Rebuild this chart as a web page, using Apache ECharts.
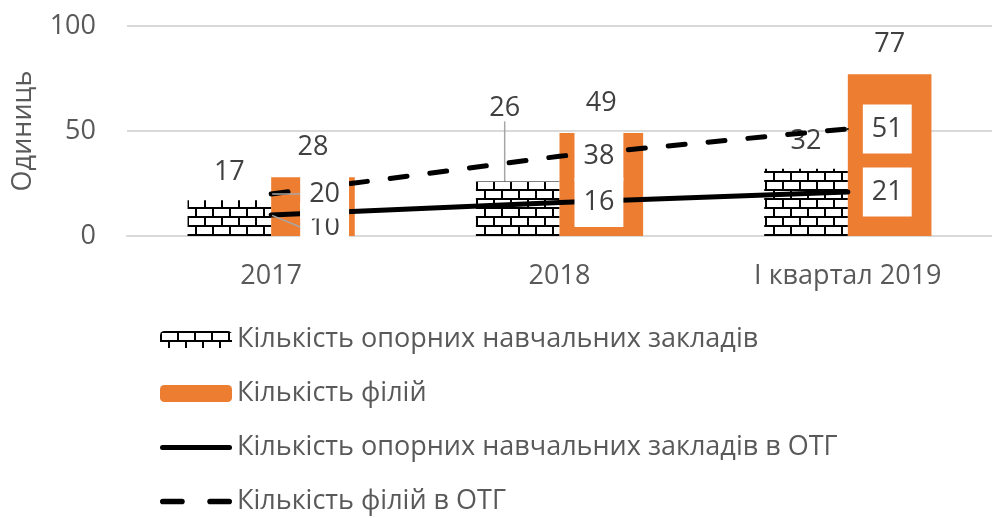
<!DOCTYPE html>
<html>
<head>
<meta charset="utf-8">
<script src="https://cdn.jsdelivr.net/npm/echarts@6/dist/echarts.min.js"></script>
<style>
  html, body { margin: 0; padding: 0; background: #fff; }
  #chart { width: 992px; height: 518px; }
</style>
</head>
<body>
<div id="chart"></div>
<script>
  // data
  let categories = ['2017', '2018', 'І квартал 2019'];
  let seriesNames = [
    'Кількість опорних навчальних закладів',
    'Кількість філій',
    'Кількість опорних навчальних закладів в ОТГ',
    'Кількість філій в ОТГ'
  ];
  let supportSchools = [17, 26, 32];
  let branches = [28, 49, 77];
  let supportSchoolsOtg = [10, 16, 21];
  let branchesOtg = [20, 38, 51];
  let yTicks = [0, 50, 100];

  let font = 'Open Sans';
  let fs = 27;

  // brick fill like the excel pattern
  let brickPattern = () => {
    let c = document.createElement('canvas');
    c.width = 17; c.height = 18;
    let g = c.getContext('2d');
    g.fillStyle = '#fff';
    g.fillRect(0, 0, 17, 18);
    g.fillStyle = '#000';
    g.fillRect(0, 0, 17, 2);
    g.fillRect(0, 9, 17, 2);
    g.fillRect(0, 0, 2, 9);
    g.fillRect(8, 9, 2, 9);
    return c;
  };

  // legend icons for the two lines (no marker dot)
  let solidIcon = 'path://M2.5,0H69.5A2.5,2.5,0,0,1,69.5,5H2.5A2.5,2.5,0,0,1,2.5,0Z';
  let dashIcon = 'path://M2.5,0H19.5A2.5,2.5,0,0,1,19.5,5H2.5A2.5,2.5,0,0,1,2.5,0Z' +
    'M44.5,0H61.5A2.5,2.5,0,0,1,61.5,5H44.5A2.5,2.5,0,0,1,44.5,0Z';

  let leader = { show: true, lineStyle: { color: '#a6a6a6', width: 1.5 } };

  // only the labels that excel moved get a leader line
  let withLeader = (values, idx) => values.map((v, i) =>
    idx.includes(i) ? { value: v, labelLine: leader } : v);

  let chart = echarts.init(document.getElementById('chart'));

  let lineLabel = {
    show: true,
    position: 'right',
    distance: 14,
    color: '#404040',
    fontFamily: font,
    fontSize: fs,
    backgroundColor: '#fff',
    padding: [11, 9]
  };

  let option = {
    animation: false,
    grid: { left: 127, right: -11, top: 26, height: 210 },
    legend: {
      orient: 'vertical',
      left: 160,
      top: 326,
      padding: 0,
      itemWidth: 72,
      itemHeight: 17,
      itemGap: 27,
      textStyle: { color: '#595959', fontFamily: font, fontSize: fs },
      data: [
        { name: seriesNames[0] },
        { name: seriesNames[1] },
        { name: seriesNames[2], icon: solidIcon },
        { name: seriesNames[3], icon: dashIcon }
      ]
    },
    xAxis: {
      type: 'category',
      data: categories,
      axisLine: { lineStyle: { color: '#d9d9d9', width: 2 } },
      axisTick: { show: false },
      axisLabel: { color: '#595959', fontFamily: font, fontSize: fs, margin: 27 }
    },
    yAxis: {
      type: 'value',
      min: yTicks[0],
      max: yTicks[yTicks.length - 1],
      interval: yTicks[1] - yTicks[0],
      name: 'Одиниць',
      nameLocation: 'middle',
      nameGap: 90,
      nameTextStyle: { color: '#595959', fontFamily: font, fontSize: fs },
      axisLabel: { color: '#595959', fontFamily: font, fontSize: fs, margin: 31 },
      splitLine: { lineStyle: { color: '#d9d9d9', width: 2 } }
    },
    series: [
      {
        name: seriesNames[0],
        type: 'bar',
        data: withLeader(supportSchools, [1]),
        barGap: '0%',
        barCategoryGap: '42%',
        itemStyle: { color: { image: brickPattern(), repeat: 'repeat' } },
        label: {
          show: true, position: 'top', distance: 14,
          color: '#404040', fontFamily: font, fontSize: fs
        },
        labelLayout: (params) => {
          if (params.dataIndex === 1) return { dx: -13, dy: -46 };
        },
        labelLine: { show: false }
      },
      {
        name: seriesNames[1],
        type: 'bar',
        data: branches,
        itemStyle: { color: '#ED7D31' },
        label: {
          show: true, position: 'top', distance: 16,
          color: '#404040', fontFamily: font, fontSize: fs
        }
      },
      {
        name: seriesNames[2],
        type: 'line',
        data: withLeader(supportSchoolsOtg, [0]),
        symbol: 'circle',
        symbolSize: 2,
        lineStyle: { color: '#000', width: 5, cap: 'round' },
        itemStyle: { color: '#000' },
        label: lineLabel,
        labelLayout: (params) => {
          if (params.dataIndex === 0) return { dx: 14, dy: 12 };
        },
        labelLine: { show: false }
      },
      {
        name: seriesNames[3],
        type: 'line',
        data: withLeader(branchesOtg, [0]),
        symbol: 'circle',
        symbolSize: 2,
        lineStyle: { color: '#000', width: 5, type: [17, 23], cap: 'round' },
        itemStyle: { color: '#000' },
        label: lineLabel,
        labelLayout: (params) => {
          if (params.dataIndex === 0) return { dx: 14, dy: 0 };
        },
        labelLine: { show: false }
      }
    ]
  };

  chart.setOption(option);
</script>
</body>
</html>
